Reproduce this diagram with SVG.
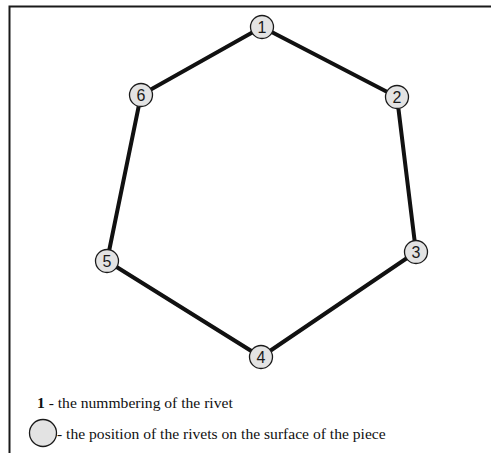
<svg xmlns="http://www.w3.org/2000/svg" width="491" height="453" viewBox="0 0 491 453">
<style>
.rivet circle{fill:#e3e3e3;stroke:#1a1a1a;stroke-width:1.3}
.rivet text{font-family:"Liberation Sans",Arial,sans-serif;font-size:16px;fill:#1a1a1a;text-anchor:middle}
.edge{stroke:#111;stroke-width:4;fill:none}
.legend{font-family:"Liberation Serif","Times New Roman",serif;font-size:15.6px;fill:#111}
</style>
<rect width="491" height="453" fill="#fff"/>
<path d="M9.5 453 V6.5 H491" fill="none" stroke="#1a1a1a" stroke-width="2"/>
<g id="connectors">
<polygon class="edge" points="262,27 397,97 416,252 261,357 107,261 141,95"/>
</g>
<g id="rivet1" class="rivet"><circle cx="262" cy="27" r="11.5"/><text x="262" y="33">1</text></g>
<g id="rivet2" class="rivet"><circle cx="397" cy="97" r="11.5"/><text x="397" y="103">2</text></g>
<g id="rivet3" class="rivet"><circle cx="416" cy="252" r="11.5"/><text x="416" y="258">3</text></g>
<g id="rivet4" class="rivet"><circle cx="261" cy="357" r="11.5"/><text x="261" y="363">4</text></g>
<g id="rivet5" class="rivet"><circle cx="107" cy="261" r="11.5"/><text x="107" y="267">5</text></g>
<g id="rivet6" class="rivet"><circle cx="141" cy="95" r="11.5"/><text x="141" y="101">6</text></g>
<g id="legend">
<text class="legend" x="37" y="408"><tspan font-weight="bold">1</tspan> - the nummbering of the rivet</text>
<g class="rivet"><circle cx="43" cy="433" r="13.5"/></g>
<text class="legend" x="57" y="439">- the position of the rivets on the surface of the piece</text>
</g>
</svg>
